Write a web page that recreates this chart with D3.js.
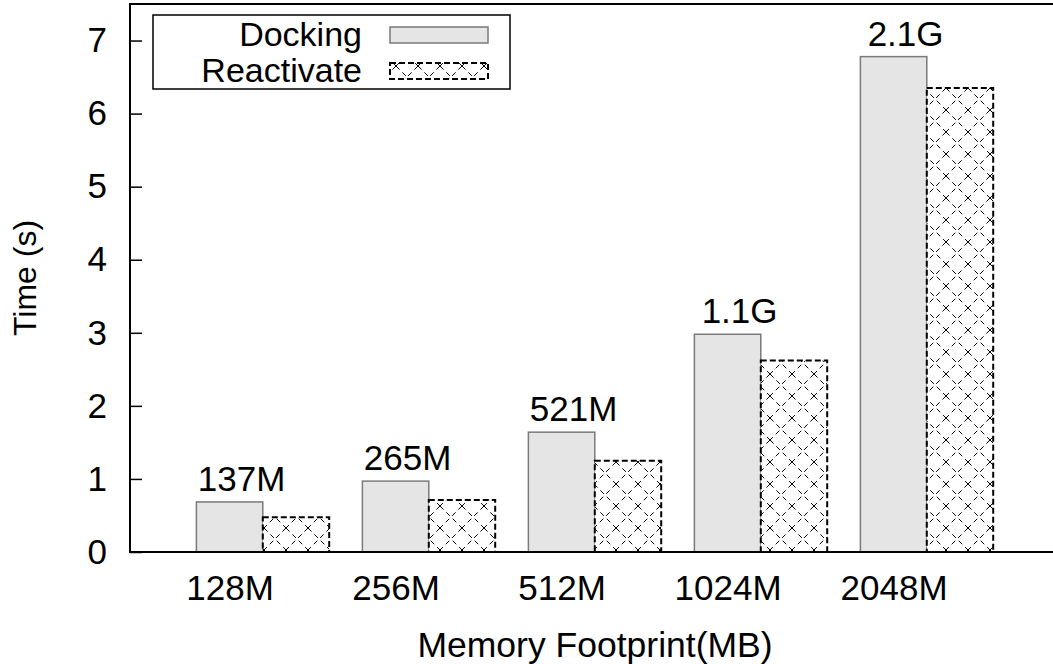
<!DOCTYPE html>
<html><head><meta charset="utf-8">
<script src="https://cdn.jsdelivr.net/npm/d3@7/dist/d3.min.js"></script>
<style>
body{margin:0;background:#fff;}
svg{display:block;}
text{font-family:"Liberation Sans",Arial,Helvetica,sans-serif;fill:#000;}
</style></head>
<body><svg id="c" width="1053" height="664"></svg>
<script>
const categories = ["128M", "256M", "512M", "1024M", "2048M"];
const docking = [0.685, 0.97, 1.64, 2.98, 6.78];
const reactivate = [0.475, 0.71, 1.25, 2.62, 6.35];
const barLabels = ["137M", "265M", "521M", "1.1G", "2.1G"];
const yTicks = [0, 1, 2, 3, 4, 5, 6, 7];
const seriesNames = ["Docking", "Reactivate"];

const svg = d3.select("#c");
const L = 130, T = 4, B = 552, R = 1060;
const fs = 35;

const x = d3.scaleLinear().domain([-0.6, 4.9]).range([L, 1043]);
const y = d3.scaleLinear().domain([0, 7.5]).range([B, T]);
const bw = x(0.4) - x(0);

const defs = svg.append("defs");
const pat = defs.append("pattern").attr("id", "xh").attr("patternUnits", "userSpaceOnUse")
  .attr("width", 22).attr("height", 22);
pat.append("rect").attr("width", 22).attr("height", 22).attr("fill", "#fff");
pat.append("path").attr("d", "M0,0L22,22M22,0L0,22").attr("stroke", "#000")
  .attr("stroke-width", 1).attr("stroke-dasharray", "5,4");

// bars
const g = svg.append("g");
g.selectAll("rect.dock").data(docking).join("rect").attr("class", "dock")
  .attr("x", (d, i) => x(i - 0.2)).attr("width", bw)
  .attr("y", d => y(d)).attr("height", d => y(0) - y(d))
  .attr("fill", "#e5e5e5").attr("stroke", "#7a7a7a").attr("stroke-width", 1.5);
g.selectAll("rect.react").data(reactivate).join("rect").attr("class", "react")
  .attr("x", (d, i) => x(i + 0.2)).attr("width", bw)
  .attr("y", d => y(d)).attr("height", d => y(0) - y(d))
  .attr("fill", "url(#xh)").attr("stroke", "#000").attr("stroke-width", 2)
  .attr("stroke-dasharray", "6,3");

// bar labels
g.selectAll("text.bl").data(barLabels).join("text").attr("class", "bl")
  .attr("x", (d, i) => x(i) + 12).attr("y", (d, i) => y(docking[i]) - 11)
  .attr("text-anchor", "middle").attr("font-size", fs).text(d => d);

// frame
svg.append("path").attr("d", `M${R},${T}H${L}V${B}H${R}`).attr("fill", "none")
  .attr("stroke", "#000").attr("stroke-width", 2);

// y axis
const ya = svg.append("g").attr("transform", `translate(${L},0)`)
  .call(d3.axisLeft(y).tickValues(yTicks).tickSize(-12).tickPadding(23).tickFormat(d3.format("d")));
ya.select(".domain").remove();
ya.selectAll("line").attr("stroke", "#000").attr("stroke-width", 1.5);
ya.selectAll("text").attr("font-size", fs).attr("font-family", "Liberation Sans, Arial, sans-serif");

// x axis
const xa = svg.append("g").attr("transform", `translate(0,${B})`)
  .call(d3.axisBottom(x).tickValues(d3.range(categories.length)).tickSize(0).tickPadding(23)
    .tickFormat(i => categories[i]));
xa.select(".domain").remove();
xa.selectAll("text").attr("font-size", fs).attr("font-family", "Liberation Sans, Arial, sans-serif");

// axis titles
svg.append("text").attr("x", 595).attr("y", 657).attr("text-anchor", "middle")
  .attr("font-size", 35.5).text("Memory Footprint(MB)");
svg.append("text").attr("transform", `translate(36,${(T + B) / 2}) rotate(-90)`)
  .attr("text-anchor", "middle").attr("font-size", 32).text("Time (s)");

// legend
const lg = svg.append("g");
lg.append("rect").attr("x", 153).attr("y", 15).attr("width", 357).attr("height", 74)
  .attr("fill", "#fff").attr("stroke", "#000").attr("stroke-width", 1.5);
const rows = [
  {name: seriesNames[0], fill: "#e5e5e5", stroke: "#7a7a7a", dash: null, sw: 1.5, cy: 35, base: 46},
  {name: seriesNames[1], fill: "url(#xh)", stroke: "#000", dash: "6,3", sw: 2, cy: 71, base: 82}
];
rows.forEach(r => {
  lg.append("text").attr("x", 362).attr("y", r.base).attr("text-anchor", "end")
    .attr("font-size", 34).text(r.name);
  lg.append("rect").attr("x", 390).attr("y", r.cy - 8).attr("width", 98).attr("height", 16)
    .attr("fill", r.fill).attr("stroke", r.stroke).attr("stroke-width", r.sw)
    .attr("stroke-dasharray", r.dash);
});
</script></body></html>
